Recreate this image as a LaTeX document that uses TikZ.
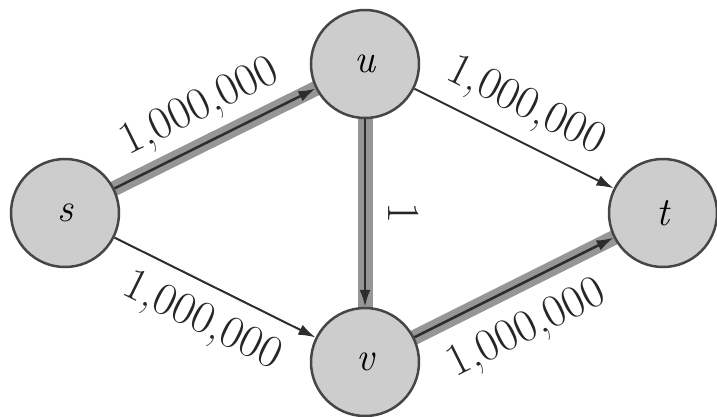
\documentclass[tikz,border=0pt]{standalone}
\usetikzlibrary{arrows.meta,backgrounds}
\definecolor{nodefill}{RGB}{205,205,205}
\definecolor{nodeline}{RGB}{70,70,70}
\definecolor{bandcol}{RGB}{150,150,150}
\definecolor{edgecol}{RGB}{45,45,45}
\tikzset{
  vertex/.style={circle, draw=nodeline, line width=2.5pt, fill=nodefill,
    minimum size=108pt, inner sep=0pt, font=\fontsize{40}{44}\selectfont\itshape},
  lab/.style={inner sep=0pt, font=\fontsize{46}{50}\selectfont, text=black!85},
  thinarrow/.style={draw=edgecol, line width=2pt, -{Latex[length=17pt,width=11pt]}},
  band/.style={draw=bandcol, line width=15pt},
  flowarrow/.style={draw=edgecol, line width=2.5pt, -{Latex[length=17pt,width=11pt]}}
}
\begin{document}
\begin{tikzpicture}[x=1pt,y=-1pt]
\useasboundingbox (0,0) rectangle (717,416);
\node[vertex] (s) at (65,213) {s};
\node[vertex] (u) at (365,64) {u};
\node[vertex] (v) at (365,362) {v};
\node[vertex] (t) at (663,213) {t};
\begin{pgfonlayer}{background}
  \fill[white] (0,0) rectangle (717,416);
  \draw[band] (s.center) -- (u.center);
  \draw[band] (u.center) -- (v.center);
  \draw[band] (v.center) -- (t.center);
\end{pgfonlayer}
\draw[flowarrow] (s) -- (u);
\draw[flowarrow] (u) -- (v);
\draw[flowarrow] (v) -- (t);
\draw[thinarrow] (s) -- (v);
\draw[thinarrow] (u) -- (t);
\node[lab, rotate=26.4] (lsu) at (200,108) {1,000,000};
\node[lab, rotate=-26.6] (lut) at (526,107) {1,000,000};
\node[lab, rotate=-26.4] (lsv) at (202,322) {1,000,000};
\node[lab, rotate=26.6] (lvt) at (527,330) {1,000,000};
\node[lab, rotate=-90] (luv) at (404,213) {1};
\end{tikzpicture}
\end{document}
